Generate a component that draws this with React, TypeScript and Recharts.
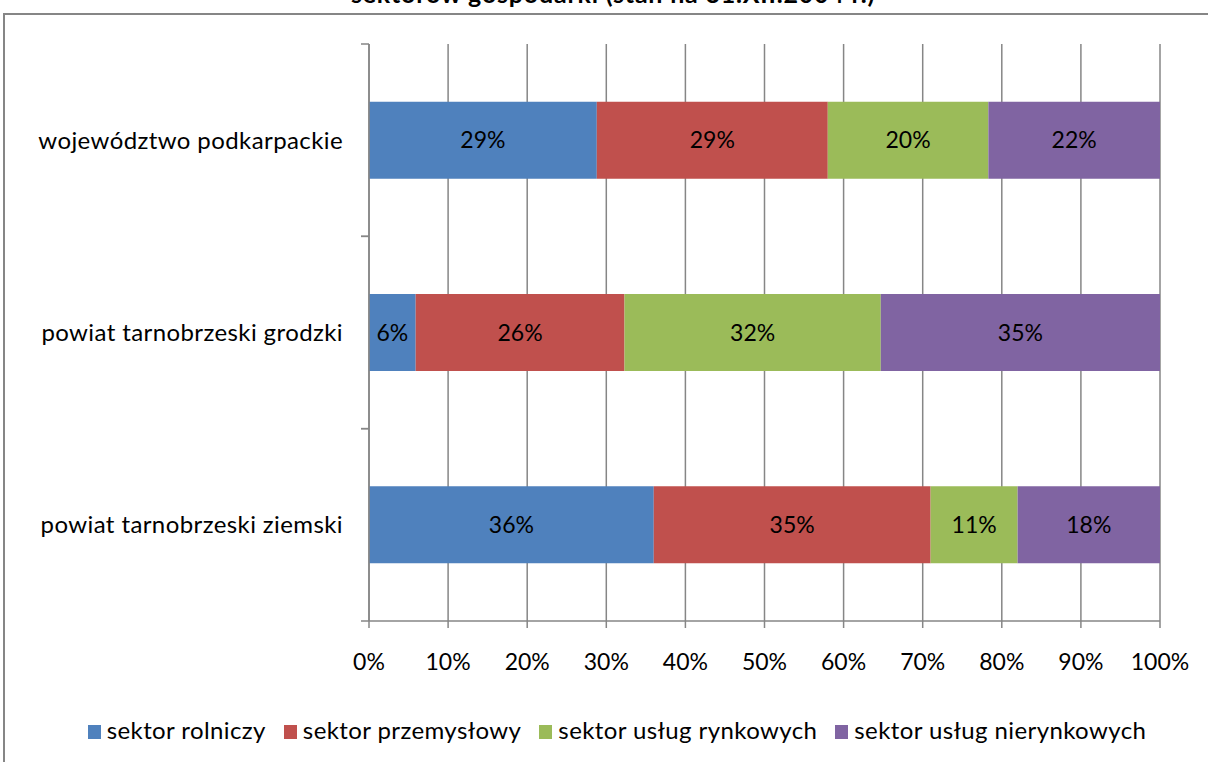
import React from "react";
import {
  Bar,
  BarChart,
  CartesianGrid,
  LabelList,
  Legend,
  XAxis,
  YAxis,
} from "recharts";

// regions, top to bottom
const regions = [
  "województwo podkarpackie",
  "powiat tarnobrzeski grodzki",
  "powiat tarnobrzeski ziemski",
];

// share of employed per sector (%)
const rolniczy = [28.8, 5.9, 36.0];
const przemyslowy = [29.2, 26.4, 35.0];
const rynkowe = [20.3, 32.4, 11.0];
const nierynkowe = [21.7, 35.3, 18.0];

const xTicks = [0, 10, 20, 30, 40, 50, 60, 70, 80, 90, 100];

const series = [
  { key: "rolniczy", name: "sektor rolniczy", color: "#4F81BD" },
  { key: "przemyslowy", name: "sektor przemysłowy", color: "#C0504D" },
  { key: "rynkowe", name: "sektor usług rynkowych", color: "#9BBB59" },
  { key: "nierynkowe", name: "sektor usług nierynkowych", color: "#8064A2" },
];

const data = regions.map((name, i) => ({
  name,
  rolniczy: rolniczy[i],
  przemyslowy: przemyslowy[i],
  rynkowe: rynkowe[i],
  nierynkowe: nierynkowe[i],
}));

const FONT = "Lato, 'Open Sans', sans-serif";
const FS = 23;
const AXIS = "#868686";

// category label plus Excel-style tick marks between the categories
const RegionTick = (props: any) => {
  const { x, y, payload } = props;
  const half = payload.offset || 0;
  const ax = x + 26;
  return (
    <g>
      <line x1={ax - 8} x2={ax} y1={y - half} y2={y - half} stroke={AXIS} strokeWidth={1.5} />
      <line x1={ax - 8} x2={ax} y1={y + half} y2={y + half} stroke={AXIS} strokeWidth={1.5} />
      <text
        x={x}
        y={y}
        dy="0.35em"
        textAnchor="end"
        fill="#000"
        fontSize={24}
        letterSpacing={0.4}
        fontFamily={FONT}
      >
        {payload.value}
      </text>
    </g>
  );
};

// legend in series order (recharts would sort it otherwise)
const LegendContent = () => (
  <div
    style={{
      textAlign: "center",
      fontFamily: FONT,
      fontSize: 24,
      letterSpacing: 0.4,
      color: "#000",
    }}
  >
    {series.map((s) => (
      <span key={s.key} style={{ display: "inline-block", marginRight: 18, whiteSpace: "nowrap" }}>
        <span
          style={{
            display: "inline-block",
            width: 13,
            height: 14,
            background: s.color,
            marginRight: 6,
            verticalAlign: "0px",
          }}
        />
        {s.name}
      </span>
    ))}
  </div>
);

export default function App() {
  return (
    <div
      style={{
        position: "absolute",
        left: 0,
        top: 0,
        width: 1208,
        height: 762,
        overflow: "hidden",
        background: "#fff",
      }}
    >
      <div
        style={{
          position: "absolute",
          left: 3,
          top: 13,
          width: 1300,
          height: 900,
          border: `2px solid ${AXIS}`,
        }}
      />
      <div
        style={{
          position: "absolute",
          left: 0,
          width: 1226,
          top: -21,
          textAlign: "center",
          fontFamily: FONT,
          fontWeight: "bold",
          fontSize: 25,
          letterSpacing: 0.8,
          lineHeight: "28px",
        }}
      >
        sektorów gospodarki (stan na 31.XII.2004 r.)
      </div>
      <div style={{ position: "absolute", left: 0, top: 0 }}>
        <BarChart
          width={1208}
          height={762}
          data={data}
          layout="vertical"
          barCategoryGap="30%"
          margin={{ top: 44, right: 48, left: 9, bottom: 101 }}
        >
          <CartesianGrid horizontal={false} stroke={AXIS} strokeWidth={1.5} />
          <XAxis
            type="number"
            domain={[0, 100]}
            ticks={xTicks}
            tickFormatter={(v: number) => `${v}%`}
            height={40}
            tickSize={7}
            tickMargin={26}
            axisLine={{ stroke: AXIS, strokeWidth: 1.5 }}
            tickLine={{ stroke: AXIS, strokeWidth: 1.5 }}
            tick={{ fill: "#000", fontSize: FS, fontFamily: FONT }}
          />
          <YAxis
            type="category"
            dataKey="name"
            width={360}
            tickLine={false}
            tickSize={0}
            tickMargin={26}
            axisLine={{ stroke: AXIS, strokeWidth: 1.5 }}
            tick={<RegionTick />}
          />
          <Legend
            layout="horizontal"
            verticalAlign="middle"
            content={<LegendContent />}
            wrapperStyle={{ top: 715, left: 0, width: 1252 }}
          />
          {series.map((s) => (
            <Bar
              key={s.key}
              dataKey={s.key}
              name={s.name}
              stackId="a"
              fill={s.color}
              isAnimationActive={false}
            >
              <LabelList
                dataKey={s.key}
                position="center"
                formatter={(v: any) => `${Math.round(Number(v))}%`}
                fill="#000"
                fontSize={FS}
                fontFamily={FONT}
              />
            </Bar>
          ))}
        </BarChart>
      </div>
    </div>
  );
}
